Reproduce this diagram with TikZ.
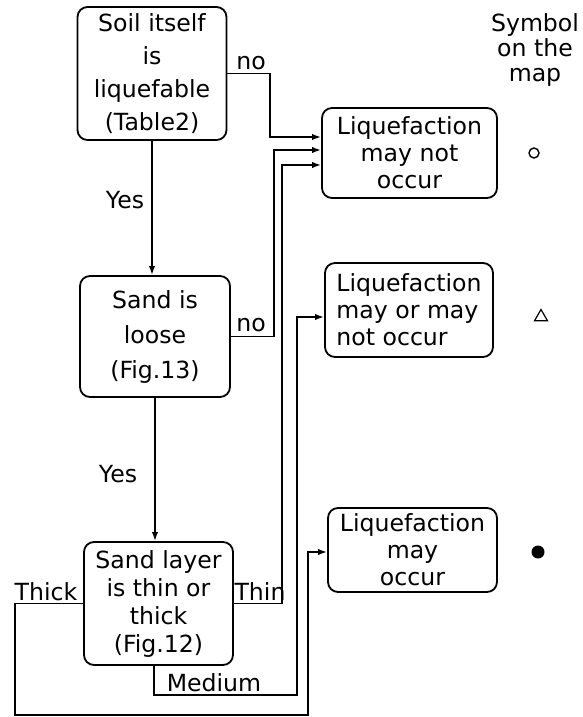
\documentclass[tikz,border=0pt]{standalone}
\usepackage{fontspec}
\setmainfont{DejaVu Sans}
\usetikzlibrary{arrows.meta,shapes.geometric,positioning,calc}

\begin{document}
\begin{tikzpicture}[x=0.5pt, y=-0.5pt,
    box/.style={draw, rounded corners=5pt, line width=0.9pt, align=center, inner sep=2pt,
        font=\fontsize{11.8}{13.5}\selectfont},
    lbl/.style={font=\fontsize{11.8}{13.5}\selectfont, inner sep=1.5pt},
    wire/.style={line width=0.9pt},
    arr/.style={wire, -{Latex[length=4.5pt,width=3.2pt]}}]
    \useasboundingbox (0,0) rectangle (583,717);

    % Decision boxes
    \node[box, minimum width=74.5pt, minimum height=66.5pt, font=\fontsize{11.8}{16.5}\selectfont] (soil) at (152,73.5) {Soil itself\\is\\liquefable\\(Table2)};
    \node[box, minimum width=75pt, minimum height=60.5pt, font=\fontsize{11.8}{17.5}\selectfont] (loose) at (155,336.5) {Sand is\\loose\\(Fig.13)};
    \node[box, minimum width=74.5pt, minimum height=61.5pt, font=\fontsize{11.8}{14}\selectfont] (layer) at (158.5,603.5) {Sand layer\\is thin or\\thick\\(Fig.12)};

    % Result boxes
    \node[box, minimum width=87.5pt, minimum height=45pt] (notocc) at (409.5,153) {Liquefaction\\may not\\occur};
    \node[box, align=left, minimum width=84pt, minimum height=47pt] (maybe) at (409,310) {Liquefaction\\may or may\\not occur};
    \node[box, minimum width=84.5pt, minimum height=42pt] (occ) at (412.5,550) {Liquefaction\\may\\occur};

    % Symbols
    \node[lbl, align=center, font=\fontsize{11.8}{12.5}\selectfont] (sym) at (535,50) {Symbol\\on the\\map};
    \node[circle, draw, line width=0.7pt, minimum size=5pt, inner sep=0pt] (c1) at (534,153) {};
    \node[regular polygon, regular polygon sides=3, draw, line width=0.6pt, minimum size=7.5pt, inner sep=0pt] (c2) at (541,317) {};
    \node[circle, fill, minimum size=6.5pt, inner sep=0pt] (c3) at (538,552) {};

    % Bend points
    \coordinate (n1) at (270,137);
    \coordinate (n2) at (274,150);
    \coordinate (t1) at (282,165);
    \coordinate (m1) at (154,695);
    \coordinate (m2) at (297,317);
    \coordinate (k1) at (15,715);
    \coordinate (k2) at (308,552);

    % Yes branches
    \draw[arr] (soil.south) -- (soil.south |- loose.north);
    \draw[arr] (loose.south) -- (loose.south |- layer.north);
    \node[lbl] (yes1) at (125,200) {Yes};
    \node[lbl] (yes2) at (118,474) {Yes};

    % No branches
    \draw[arr] (soil.east) -| (n1) -- (n1 -| notocc.west);
    \draw[arr] (loose.east) -| (n2) -- (n2 -| notocc.west);
    \node[lbl, above] (no1) at (251,73) {no};
    \node[lbl, above] (no2) at (251,335) {no};

    % Layer thickness
    \draw[arr] (layer.east) -| (t1) -- (t1 -| notocc.west);
    \draw[arr] (layer.south -| m1) -- (m1) -| (m2) -- (m2 -| maybe.west);
    \draw[arr] (layer.west) -| (k1) -| (k2) -- (k2 -| occ.west);
    \node[lbl, above] (thin) at (260,604) {Thin};
    \node[lbl, above] (thick) at (46,604) {Thick};
    \node[lbl, above] (medium) at (214,695) {Medium};
\end{tikzpicture}
\end{document}
